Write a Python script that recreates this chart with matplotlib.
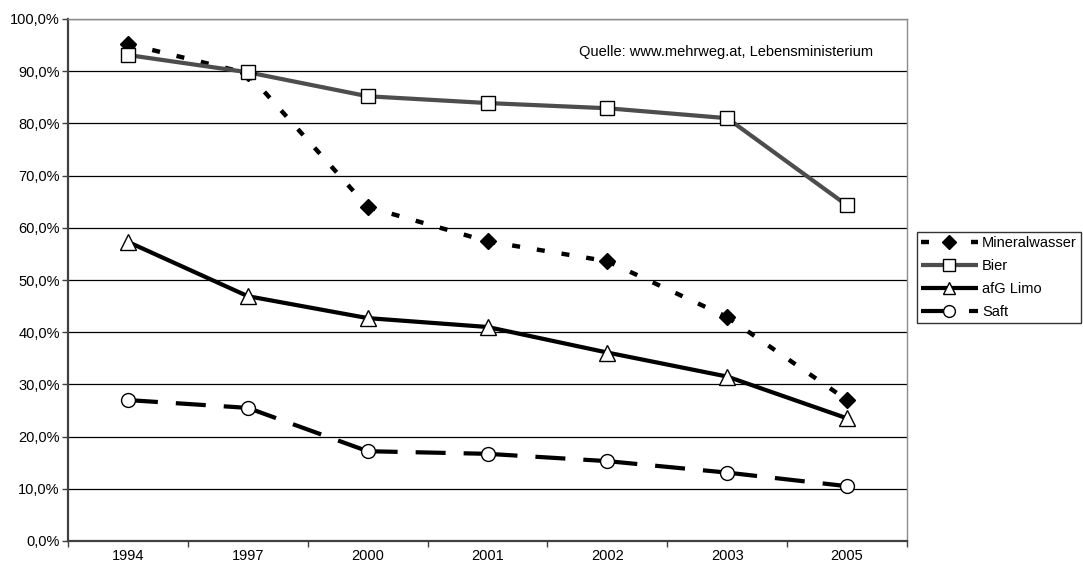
import matplotlib
matplotlib.use('Agg')
import matplotlib.pyplot as plt
from matplotlib.lines import Line2D
from matplotlib.ticker import FuncFormatter, FixedLocator

plt.rcParams['font.family'] = ['Liberation Sans', 'DejaVu Sans']
plt.rcParams['lines.scale_dashes'] = False

# Data (share of returnable bottles, in percent)
years = ['1994', '1997', '2000', '2001', '2002', '2003', '2005']
mineralwasser = [95.2, 89.6, 64.0, 57.4, 53.6, 42.9, 27.0]
bier = [93.1, 89.8, 85.2, 83.9, 82.9, 81.0, 64.3]
afg_limo = [57.3, 46.9, 42.7, 41.0, 36.1, 31.5, 23.5]
saft = [27.0, 25.5, 17.2, 16.7, 15.3, 13.1, 10.5]
source_text = 'Quelle: www.mehrweg.at, Lebensministerium'

fig = plt.figure(figsize=(10.83, 5.68), dpi=100)
ax = fig.add_axes([68 / 1083, 27 / 568, 839 / 1083, 522 / 568])

x = list(range(len(years)))
px = 0.72  # one pixel in points

# style per series: color, linewidth, dashes (None = solid), marker, marker size, face color
styles = {
    'Mineralwasser': dict(values=mineralwasser, color='black', lw=4.4 * px, dashes=(8 * px, 17 * px),
                          marker='D', ms=8.0, mfc='black'),
    'Bier': dict(values=bier, color='#4d4d4d', lw=4.2 * px, dashes=None,
                 marker='s', ms=9.5, mfc='white'),
    'afG Limo': dict(values=afg_limo, color='black', lw=4.2 * px, dashes=None,
                     marker='^', ms=11, mfc='white'),
    'Saft': dict(values=saft, color='black', lw=4.2 * px, dashes=(30 * px, 18 * px),
                 marker='o', ms=10, mfc='white'),
}

handles = []
for name, st in styles.items():
    vals = st['values']
    if st['dashes'] is None:
        ax.plot(x, vals, color=st['color'], lw=st['lw'], solid_capstyle='butt', zorder=3)
    else:
        # Excel restarts the dash pattern on every segment
        for i in range(len(vals) - 1):
            ax.plot(x[i:i + 2], vals[i:i + 2], color=st['color'], lw=st['lw'],
                    dashes=st['dashes'], dash_capstyle='butt', zorder=3)
    ax.plot(x, vals, linestyle='none', marker=st['marker'], ms=st['ms'],
            mfc=st['mfc'], mec='black', mew=1.0, zorder=4)
    handles.append(Line2D([], [], color=st['color'], lw=st['lw'],
                          linestyle='-' if st['dashes'] is None else (0, st['dashes']),
                          dash_capstyle='butt', solid_capstyle='butt',
                          marker=st['marker'], ms=st['ms'] * 0.85, mfc=st['mfc'],
                          mec='black', mew=1.0, label=name))

# Axes limits and ticks
ax.set_xlim(-0.5, len(years) - 0.5)
ax.set_ylim(0, 100)
ax.set_yticks(range(0, 101, 10))
ax.yaxis.set_major_formatter(FuncFormatter(lambda v, p: f'{v:.1f}%'.replace('.', ',')))
ax.xaxis.set_major_locator(FixedLocator([i - 0.5 for i in range(len(years) + 1)]))
ax.xaxis.set_major_formatter(FuncFormatter(lambda v, p: ''))
ax.set_xticks(x, minor=True)
ax.set_xticklabels(years, minor=True)
ax.tick_params(axis='x', which='major', length=4.5, width=1, color='#404040', direction='out')
ax.tick_params(axis='x', which='minor', length=0, pad=6, labelsize=10.5)
ax.tick_params(axis='y', length=4, width=1, color='#404040', pad=2, labelsize=10.5)

# Gridlines
ax.grid(axis='y', color='black', lw=0.9)
ax.set_axisbelow(True)

# Frame
ax.spines['left'].set_color('#404040')
ax.spines['left'].set_linewidth(1.6)
ax.spines['bottom'].set_color('#404040')
ax.spines['bottom'].set_linewidth(1.6)
ax.spines['top'].set_color('#8c8c8c')
ax.spines['top'].set_linewidth(1)
ax.spines['right'].set_color('#8c8c8c')
ax.spines['right'].set_linewidth(1)

# Source note
ax.text(0.9595, 0.937, source_text, transform=ax.transAxes, ha='right', va='center', fontsize=10.5)

# Legend
leg = fig.legend(handles=handles, loc='upper left', bbox_to_anchor=(917 / 1083, 1 - 232 / 568),
                 fontsize=10.5, frameon=True, fancybox=False, handlelength=3.85,
                 handletextpad=0.3, borderpad=0.3, borderaxespad=0, labelspacing=0.6,
                 numpoints=1)
leg.get_frame().set_edgecolor('black')
leg.get_frame().set_linewidth(1)

fig.savefig('out.png', dpi=100)
